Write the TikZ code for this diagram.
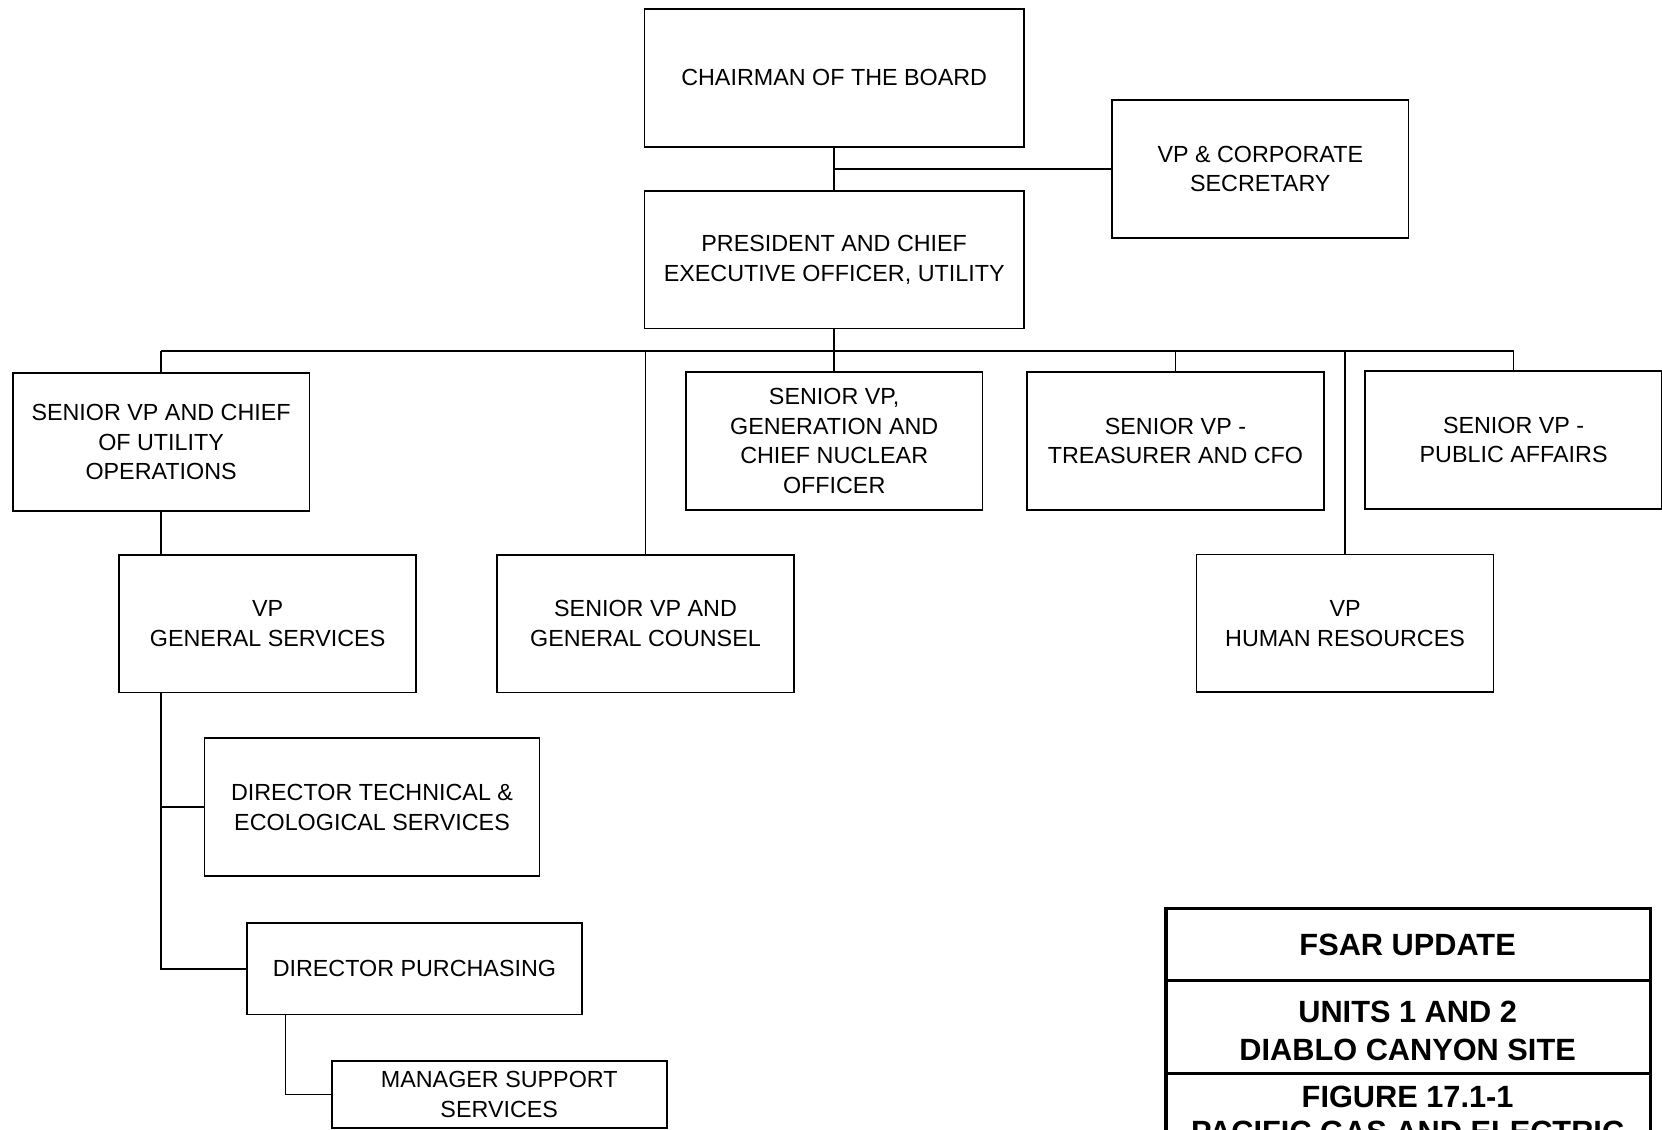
\documentclass[tikz,border=0pt]{standalone}
\usepackage{fontspec}
\setmainfont{Liberation Sans}
\usepackage{tikz}
\usetikzlibrary{calc}

\begin{document}
\begin{tikzpicture}[x=0.5pt, y=-0.5pt, line width=0.75pt,
    every node/.style={font=\fontsize{11}{14}\selectfont, align=center, inner sep=0pt},
    box/.style={draw, minimum width=140pt, minimum height=65pt},
    widebox/.style={box, minimum width=179pt},
    dirbox/.style={box, minimum width=158pt},
    titletext/.style={font=\fontsize{14.5}{18}\selectfont\bfseries}]
    \useasboundingbox (0, 0) rectangle (1568, 1066);
    \clip (0, 0) rectangle (1568, 1066);

    % top of the chart
    \node [widebox] (chair) at (787, 73.5) {CHAIRMAN OF THE BOARD};
    \node [box] (secy) at (1189, 159.5) {VP \& CORPORATE\\SECRETARY};
    \node [widebox] (pres) at (787, 245) {PRESIDENT AND CHIEF\\EXECUTIVE OFFICER, UTILITY};

    \draw (chair) -- (pres);
    \draw (secy) -- (secy -| chair);

    % senior vps
    \node [box] (ops) at (152, 417) {SENIOR VP AND CHIEF\\OF UTILITY\\OPERATIONS};
    \node [box] (gen) at (787, 416) {SENIOR VP,\\GENERATION AND\\CHIEF NUCLEAR\\OFFICER};
    \node [box] (treas) at (1109, 416) {SENIOR VP -\\TREASURER AND CFO};
    \node [box] (pubaff) at (1428, 415) {SENIOR VP -\\PUBLIC AFFAIRS};
    \node [box] (counsel) at (609, 588.5) {SENIOR VP AND\\GENERAL COUNSEL};
    \node [box] (hr) at (1269, 588) {VP\\HUMAN RESOURCES};

    % bus line
    \coordinate (busL) at (152, 331);
    \coordinate (busR) at (1428, 331);
    \draw (pres) -- (pres |- busL);
    \draw (busL) -- (busR);
    \foreach \n in {ops, gen, treas, pubaff, counsel, hr}
      \draw (\n) -- (\n |- busL);

    % utility operations
    \node [box] (gensvc) at (252.5, 588.5) {VP\\GENERAL SERVICES};
    \node [dirbox] (tech) at (351, 761.5) {DIRECTOR TECHNICAL \&\\ECOLOGICAL SERVICES};
    \node [dirbox, minimum height=43pt] (purch) at (391, 914) {DIRECTOR PURCHASING};
    \node [dirbox, minimum height=31.5pt] (mgr) at (471, 1032.5) {MANAGER SUPPORT\\SERVICES};

    \draw (ops) -- (gensvc.north -| ops);
    \coordinate (gsfoot) at (gensvc.south -| ops);
    \draw (gsfoot) |- (tech);
    \draw (gsfoot) |- (purch);
    \draw ([xshift=18.5pt]purch.south west) |- (mgr);

    % title block
    \draw [line width=1.6pt] (1100, 857) rectangle (1557, 1200);
    \draw [line width=1.6pt] (1100, 925) -- (1557, 925);
    \draw [line width=1.6pt] (1100, 1013) -- (1557, 1013);
    \node [titletext] (fsar) at (1328, 891) {FSAR UPDATE};
    \node [titletext] (site) at (1328, 972.5) {UNITS 1 AND 2\\DIABLO CANYON SITE};
    \node [titletext] (fig) at (1328, 1035) {FIGURE 17.1-1};
    \node [titletext] (company) at (1328, 1067.5) {PACIFIC GAS AND ELECTRIC};
\end{tikzpicture}
\end{document}
